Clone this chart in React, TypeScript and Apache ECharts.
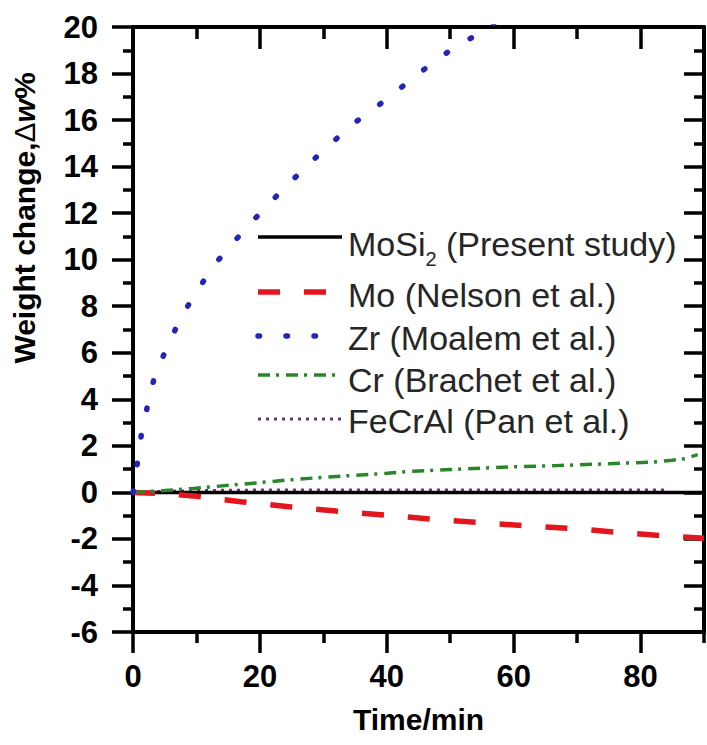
import React, { useEffect, useRef } from "react";
import * as echarts from "echarts";

// ---- data ----
const xMajorTicks = [0, 20, 40, 60, 80];
const xMinorTicks = [10, 30, 50, 70, 90];

const timeMoSi2 = [0, 30, 60, 90];
const wMoSi2 = [0, 0, 0, 0];

const timeMo = [0, 5, 10, 17, 25, 32, 40, 47, 55, 62, 70, 77, 84, 90];
const wMo = [0, -0.05, -0.17, -0.4, -0.63, -0.8, -0.98, -1.15, -1.3, -1.44, -1.57, -1.73, -1.87, -1.97];

const timeZr = [0, 0.8, 1.4, 2.4, 3.5, 5.5, 7.5, 10.4, 13.5, 17.3, 21.4, 25.8, 30, 35, 40, 45, 50, 55, 58];
const wZr = [0, 1.45, 2.65, 3.85, 5.1, 6.3, 7.5, 8.8, 10.0, 11.2, 12.4, 13.6, 14.7, 15.9, 16.9, 18.0, 19.0, 19.8, 20.4];

const timeCr = [0, 5, 9.5, 20, 24, 30, 40, 43.5, 50, 60, 66.7, 75, 81.8, 85, 87, 89];
const wCr = [0, 0.08, 0.17, 0.42, 0.52, 0.65, 0.82, 0.9, 0.98, 1.1, 1.15, 1.23, 1.3, 1.38, 1.45, 1.62];

const timeFeCrAl = [0, 10, 20, 30, 40, 50, 60, 70, 80, 84];
const wFeCrAl = [0, 0.08, 0.1, 0.1, 0.1, 0.1, 0.1, 0.1, 0.1, 0.1];

const legendNames = ["Mo (Nelson et al.)", "Zr (Moalem et al.)", "Cr (Brachet et al.)", "FeCrAl (Pan et al.)"];

const FONT = "'Liberation Sans', Arial, Helvetica, sans-serif";

const pairs = (xs: number[], ys: number[]) => xs.map((x, i) => [x, ys[i]]);

const styles = {
  mosi2: { color: "#000000", width: 3.5, type: "solid" as any, cap: "butt" },
  mo: { color: "#e3161e", width: 5.5, type: [22, 24], cap: "butt" },
  zr: { color: "#2424b8", width: 5.5, type: [1.5, 26.5], cap: "round" },
  cr: { color: "#2a862a", width: 3.5, type: [12, 6, 3, 7], cap: "butt" },
  fecral: { color: "#7a2d79", width: 3, type: [3, 5], cap: "butt" },
};

export default function App() {
  const ref = useRef<HTMLDivElement>(null);

  useEffect(() => {
    if (!ref.current) return;
    const chart = echarts.init(ref.current, undefined, { renderer: "svg" });

    const axisLine = { show: true, onZero: false, lineStyle: { color: "#000", width: 4 } };
    const labelStyle = { color: "#000", fontWeight: "bold" as const, fontSize: 31, fontFamily: FONT };

    const mkLine = (name: string, xs: number[], ys: number[], st: any) => ({
      name,
      type: "line",
      xAxisIndex: 0,
      yAxisIndex: 0,
      data: pairs(xs, ys),
      showSymbol: false,
      symbol: "none",
      clip: true,
      lineStyle: { color: st.color, width: st.width, type: st.type, cap: st.cap },
    });

    const legendRows = [
      { st: styles.mo, lineY: 292, textY: 295, text: legendNames[0] },
      { st: styles.zr, lineY: 336, textY: 338, text: legendNames[1] },
      { st: styles.cr, lineY: 375, textY: 380, text: legendNames[2] },
      { st: styles.fecral, lineY: 419, textY: 421, text: legendNames[3] },
    ];

    const fs = 34;
    const txtColor = "#262626";
    const legendGraphics: any[] = [];
    // MoSi2 row
    legendGraphics.push({
      type: "line",
      shape: { x1: 258, y1: 237, x2: 342, y2: 237 },
      style: { stroke: styles.mosi2.color, lineWidth: styles.mosi2.width },
    });
    const moSiW = (0.833 + 0.556 + 0.667 + 0.222) * fs;
    legendGraphics.push({
      type: "text", x: 348, y: 244,
      style: { text: "MoSi", fill: txtColor, fontSize: fs, fontFamily: FONT, align: "left", verticalAlign: "middle" },
    });
    legendGraphics.push({
      type: "text", x: 348 + moSiW, y: 259,
      style: { text: "2", fill: txtColor, fontSize: 20, fontFamily: FONT, align: "left", verticalAlign: "middle" },
    });
    legendGraphics.push({
      type: "text", x: 348 + moSiW + 0.556 * 20, y: 244,
      style: { text: " (Present study)", fill: txtColor, fontSize: fs, fontFamily: FONT, align: "left", verticalAlign: "middle" },
    });
    legendRows.forEach((r) => {
      legendGraphics.push({
        type: "line",
        shape: { x1: 258, y1: r.lineY, x2: 342, y2: r.lineY },
        style: {
          stroke: r.st.color,
          lineWidth: r.st.width,
          lineDash: Array.isArray(r.st.type) ? r.st.type : null,
          lineCap: r.st.cap,
        },
      });
      legendGraphics.push({
        type: "text", x: 348, y: r.textY,
        style: { text: r.text, fill: txtColor, fontSize: fs, fontFamily: FONT, align: "left", verticalAlign: "middle" },
      });
    });

    // Y axis title (rotated)
    legendGraphics.push({
      type: "text",
      x: 24,
      y: 218,
      rotation: Math.PI / 2,
      style: {
        text: "{a|Weight change,}{d|Δ}{b|w}{a|%}",
        fill: "#000",
        fontSize: 30,
        fontFamily: FONT,
        fontWeight: "bold",
        align: "center",
        verticalAlign: "middle",
        rich: {
          a: { fontSize: 30, fontWeight: "bold", fontFamily: FONT, fill: "#000" },
          d: { fontSize: 30, fontWeight: "normal", fontFamily: FONT, fill: "#000" },
          b: { fontSize: 30, fontWeight: "bold", fontStyle: "italic", fontFamily: FONT, fill: "#000" },
        },
      },
    });

    const option: any = {
      animation: false,
      backgroundColor: "#ffffff",
      grid: { left: 133, right: 3, top: 27, bottom: 113, containLabel: false },
      xAxis: [
        {
          type: "value", position: "bottom", min: 0, max: 90,
          axisLine,
          axisTick: { show: true, inside: false, length: 21, customValues: xMajorTicks, lineStyle: { color: "#000", width: 3.5 } },
          axisLabel: { ...labelStyle, margin: 29, customValues: xMajorTicks },
          splitLine: { show: false },
          name: "Time/min",
          nameLocation: "middle",
          nameGap: 72,
          nameTextStyle: { color: "#000", fontWeight: "bold", fontSize: 30, fontFamily: FONT },
        },
        {
          type: "value", position: "bottom", min: 0, max: 90,
          axisLine: { show: false, onZero: false },
          axisTick: { show: true, inside: false, length: 11, customValues: xMinorTicks, lineStyle: { color: "#000", width: 3.5 } },
          axisLabel: { show: false },
          splitLine: { show: false },
        },
        {
          type: "value", position: "top", min: 0, max: 90,
          axisLine,
          axisTick: { show: true, inside: true, length: 22, customValues: xMajorTicks, lineStyle: { color: "#000", width: 3.5 } },
          axisLabel: { show: false },
          splitLine: { show: false },
        },
        {
          type: "value", position: "top", min: 0, max: 90,
          axisLine: { show: false, onZero: false },
          axisTick: { show: true, inside: true, length: 12, customValues: xMinorTicks, lineStyle: { color: "#000", width: 3.5 } },
          axisLabel: { show: false },
          splitLine: { show: false },
        },
      ],
      yAxis: [
        {
          type: "value", position: "left", min: -6, max: 20, interval: 2,
          axisLine,
          axisTick: { show: true, inside: false, length: 21, lineStyle: { color: "#000", width: 3.5 } },
          minorTick: { show: true, splitNumber: 2, length: 10, lineStyle: { color: "#000", width: 3.5 } },
          axisLabel: { ...labelStyle, margin: 35 },
          splitLine: { show: false },
          minorSplitLine: { show: false },
        },
        {
          type: "value", position: "right", min: -6, max: 20, interval: 2,
          axisLine,
          axisTick: { show: true, inside: true, length: 20, lineStyle: { color: "#000", width: 3.5 } },
          minorTick: { show: true, splitNumber: 2, length: 10, lineStyle: { color: "#000", width: 3.5 } },
          axisLabel: { show: false },
          splitLine: { show: false },
          minorSplitLine: { show: false },
        },
      ],
      series: [
        mkLine("FeCrAl (Pan et al.)", timeFeCrAl, wFeCrAl, styles.fecral),
        mkLine("MoSi2 (Present study)", timeMoSi2, wMoSi2, styles.mosi2),
        mkLine("Mo (Nelson et al.)", timeMo, wMo, styles.mo),
        mkLine("Cr (Brachet et al.)", timeCr, wCr, styles.cr),
        mkLine("Zr (Moalem et al.)", timeZr, wZr, styles.zr),
      ],
      graphic: legendGraphics,
    };

    chart.setOption(option);
    return () => chart.dispose();
  }, []);

  return (
    <div
      ref={ref}
      style={{ position: "absolute", left: 0, top: 0, width: 707, height: 745, background: "#fff" }}
    />
  );
}
